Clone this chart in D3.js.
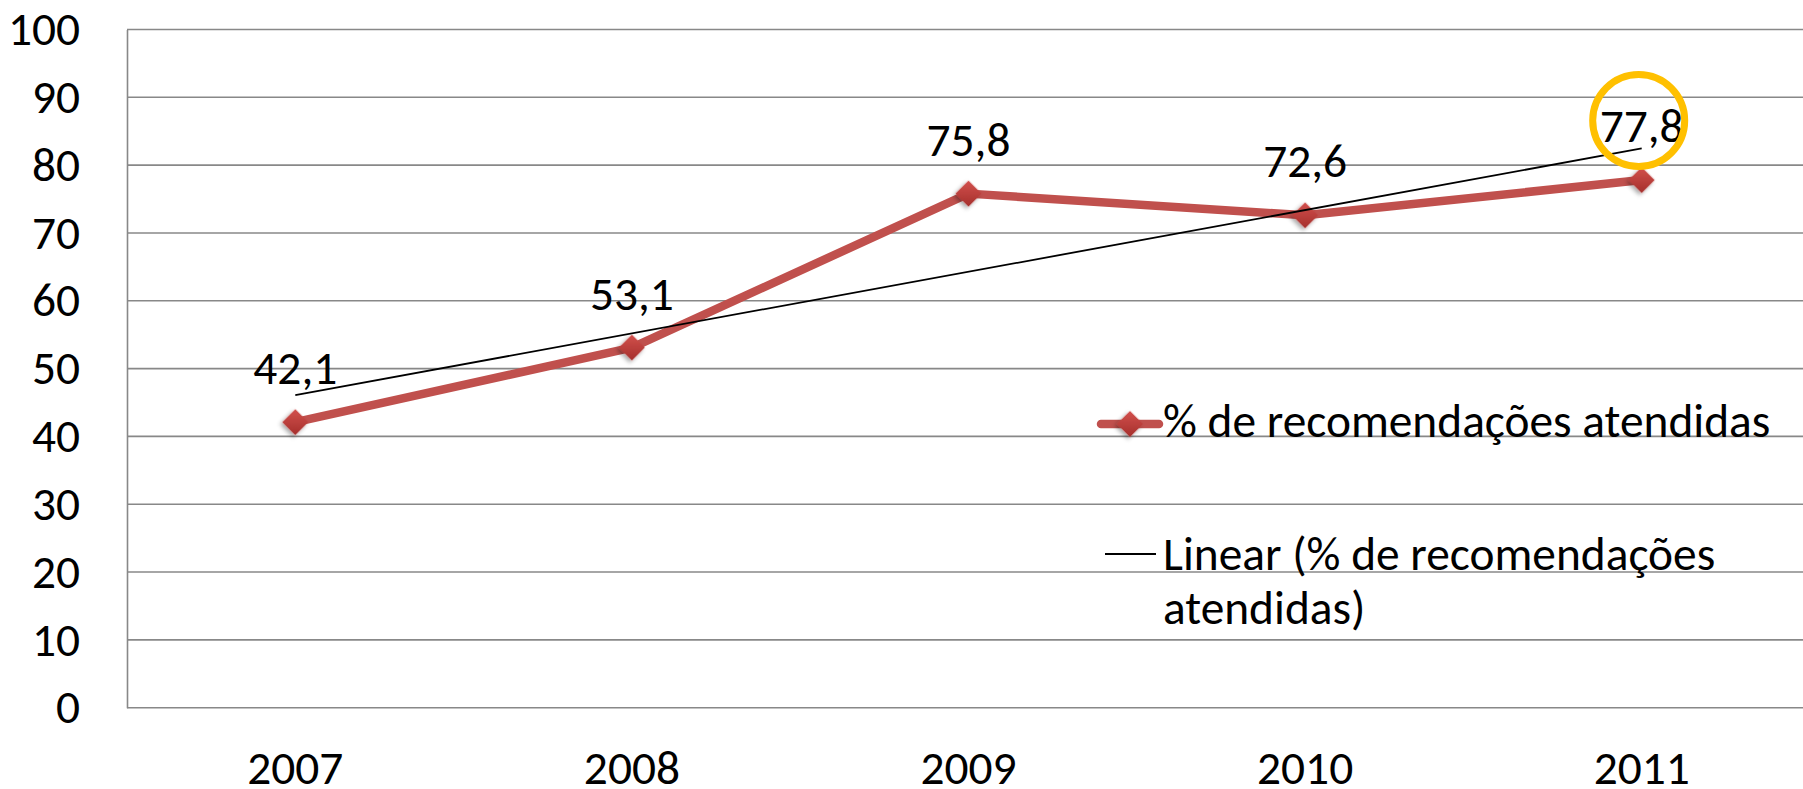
<!DOCTYPE html>
<html>
<head>
<meta charset="utf-8">
<script src="https://cdn.jsdelivr.net/npm/d3@7"></script>
<style>
html,body{margin:0;padding:0;background:#fff;}
svg{display:block;font-family:Carlito, Calibri, Lato, sans-serif;}
</style>
</head>
<body>
<svg id="chart" width="1803" height="789"></svg>
<script>
const years = ["2007","2008","2009","2010","2011"];
const values = [42.1, 53.1, 75.8, 72.6, 77.8];
const valueLabels = ["42,1","53,1","75,8","72,6","77,8"];
const yTicks = [0,10,20,30,40,50,60,70,80,90,100];
const seriesName = "% de recomendações atendidas";
const trendNameLines = ["Linear (% de recomendações","atendidas)"];

(function(){
const svg = d3.select("#chart");
const pL = 127, pR = 1810, pT = 29.5, pB = 707.7;
const FS = 47.4;
const FONT = "Carlito, Calibri, Lato, sans-serif";

const x = d3.scaleBand().domain(years).range([pL, pR]).paddingInner(0).paddingOuter(0);
const cx = d => x(d) + x.bandwidth()/2;
const y = d3.scaleLinear().domain([0,100]).range([pB, pT]);

const defs = svg.append("defs");
const grad = defs.append("linearGradient").attr("id","mk").attr("x1","0").attr("y1","0").attr("x2","1").attr("y2","1");
grad.append("stop").attr("offset","0%").attr("stop-color","#D2504C");
grad.append("stop").attr("offset","100%").attr("stop-color","#A52F2C");
const f = defs.append("filter").attr("id","sh").attr("x","-50%").attr("y","-50%").attr("width","200%").attr("height","200%");
f.append("feDropShadow").attr("dx",0).attr("dy",3).attr("stdDeviation",2.2).attr("flood-color","#000").attr("flood-opacity",0.35);

// gridlines
svg.append("g").selectAll("line").data(yTicks).join("line")
  .attr("x1", pL).attr("x2", pR)
  .attr("y1", d => y(d)).attr("y2", d => y(d))
  .attr("stroke", "#888").attr("stroke-width", 1.6);

// y axis
const yAxis = d3.axisLeft(y).tickValues(yTicks).tickSize(0).tickPadding(47);
const gy = svg.append("g").attr("transform", `translate(${pL},0)`).call(yAxis);
gy.select(".domain").attr("stroke","#888").attr("stroke-width",1.6);
gy.selectAll("text").attr("font-size", FS).attr("fill","#000").attr("font-family",FONT).attr("dy","0.32em");

// x axis labels
const xAxis = d3.axisBottom(x).tickSize(0).tickPadding(0);
const gx = svg.append("g").attr("transform", `translate(0,${pB})`).call(xAxis);
gx.select(".domain").remove();
gx.selectAll("text").attr("font-size", FS).attr("fill","#000").attr("font-family",FONT).attr("dy", null).attr("y", 76);

// trend line (least squares)
const n = values.length;
const xs = d3.range(1, n+1);
const mx = d3.mean(xs), my = d3.mean(values);
const slope = d3.sum(xs.map((xi,i)=>(xi-mx)*(values[i]-my))) / d3.sum(xs.map(xi=>(xi-mx)**2));
const icpt = my - slope*mx;
const trend = [0, n-1].map(i => ({k: years[i], v: icpt + slope*(i+1)}));

// series line
const line = d3.line().x((d,i)=>cx(years[i])).y(d=>y(d));
svg.append("path").datum(values).attr("d", line)
  .attr("fill","none").attr("stroke","#C0504D").attr("stroke-width",8.5).attr("stroke-linejoin","round");

// markers
svg.append("g").selectAll("path").data(values).join("path")
  .attr("d", d3.symbol().type(d3.symbolSquare).size(340))
  .attr("transform",(d,i)=>`translate(${cx(years[i])},${y(d)}) rotate(45)`)
  .attr("fill","url(#mk)").attr("filter","url(#sh)");

// trend line on top
svg.append("line")
  .attr("x1", cx(trend[0].k)).attr("y1", y(trend[0].v))
  .attr("x2", cx(trend[1].k)).attr("y2", y(trend[1].v))
  .attr("stroke","#000").attr("stroke-width",1.8);

// data labels
svg.append("g").selectAll("text").data(values).join("text")
  .attr("x",(d,i)=>cx(years[i])).attr("y", d => y(d) - 38)
  .attr("text-anchor","middle").attr("font-size",FS).attr("fill","#000").attr("font-family",FONT)
  .text((d,i)=>valueLabels[i]);

// highlight circle around last label
const last = n-1;
svg.append("circle").attr("cx", cx(years[last]) - 3).attr("cy", y(values[last]) - 59.5).attr("r", 46)
  .attr("fill","none").attr("stroke","#FFC000").attr("stroke-width",7);

// legend
const lg = svg.append("g").attr("font-family",FONT);
lg.append("line").attr("x1",1101).attr("x2",1159).attr("y1",424).attr("y2",424)
  .attr("stroke","#C0504D").attr("stroke-width",8.5).attr("stroke-linecap","round");
lg.append("path").attr("d", d3.symbol().type(d3.symbolSquare).size(340))
  .attr("transform","translate(1130,424) rotate(45)").attr("fill","url(#mk)").attr("filter","url(#sh)");
lg.append("text").attr("x",1163).attr("y",437).attr("font-size",FS).attr("fill","#000").text(seriesName);
lg.append("line").attr("x1",1105).attr("x2",1156).attr("y1",554).attr("y2",554)
  .attr("stroke","#000").attr("stroke-width",1.8);
lg.append("text").attr("x",1163).attr("y",570).attr("font-size",FS).attr("fill","#000").text(trendNameLines[0]);
lg.append("text").attr("x",1163).attr("y",624).attr("font-size",FS).attr("fill","#000").text(trendNameLines[1]);
})();
</script>
</body>
</html>
